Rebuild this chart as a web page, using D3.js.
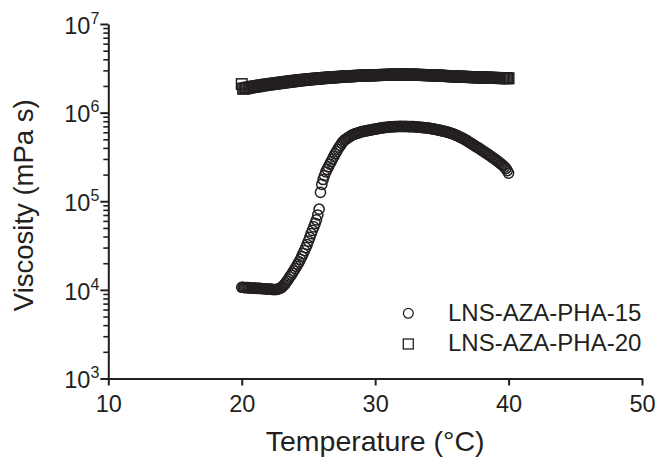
<!DOCTYPE html>
<html><head><meta charset="utf-8">
<script src="https://cdn.jsdelivr.net/npm/d3@7"></script>
<style>
html,body{margin:0;padding:0;background:#fff;}
svg{display:block;font-family:"Liberation Sans",Arial,Helvetica,sans-serif;}
</style></head><body>
<svg id="chart" width="657" height="458"></svg>
<script>
// Temperature (°C) of each measured point
const temperature = [
20.0,20.1,20.2,20.3,20.4,20.5,20.6,20.7,20.8,20.9,
21.0,21.1,21.2,21.3,21.4,21.5,21.6,21.7,21.8,21.9,
22.0,22.1,22.2,22.3,22.4,22.5,22.6,22.7,22.8,22.9,
23.0,23.1,23.2,23.3,23.4,23.5,23.6,23.7,23.8,23.9,
24.0,24.1,24.2,24.3,24.4,24.5,24.6,24.7,24.8,24.9,
25.0,25.1,25.2,25.3,25.4,25.5,25.6,25.7,25.8,25.9,
26.0,26.1,26.2,26.3,26.4,26.5,26.6,26.7,26.8,26.9,
27.0,27.1,27.2,27.3,27.4,27.5,27.6,27.7,27.8,27.9,
28.0,28.1,28.2,28.3,28.4,28.5,28.6,28.7,28.8,28.9,
29.0,29.1,29.2,29.3,29.4,29.5,29.6,29.7,29.8,29.9,
30.0,30.1,30.2,30.3,30.4,30.5,30.6,30.7,30.8,30.9,
31.0,31.1,31.2,31.3,31.4,31.5,31.6,31.7,31.8,31.9,
32.0,32.1,32.2,32.3,32.4,32.5,32.6,32.7,32.8,32.9,
33.0,33.1,33.2,33.3,33.4,33.5,33.6,33.7,33.8,33.9,
34.0,34.1,34.2,34.3,34.4,34.5,34.6,34.7,34.8,34.9,
35.0,35.1,35.2,35.3,35.4,35.5,35.6,35.7,35.8,35.9,
36.0,36.1,36.2,36.3,36.4,36.5,36.6,36.7,36.8,36.9,
37.0,37.1,37.2,37.3,37.4,37.5,37.6,37.7,37.8,37.9,
38.0,38.1,38.2,38.3,38.4,38.5,38.6,38.7,38.8,38.9,
39.0,39.1,39.2,39.3,39.4,39.5,39.6,39.7,39.8,39.9,
40.0];

// Viscosity (mPa s), LNS-AZA-PHA-15 (circles)
const viscosityPHA15 = [
1.07e4,1.07e4,1.06e4,1.06e4,1.06e4,1.06e4,1.05e4,1.05e4,1.05e4,1.05e4,
1.05e4,1.04e4,1.04e4,1.04e4,1.04e4,1.03e4,1.03e4,1.03e4,1.03e4,1.02e4,
1.02e4,1.02e4,1.02e4,1.01e4,1.01e4,1.01e4,1.01e4,1.02e4,1.03e4,1.05e4,
1.07e4,1.11e4,1.15e4,1.20e4,1.26e4,1.32e4,1.40e4,1.47e4,1.55e4,1.64e4,
1.74e4,1.84e4,1.95e4,2.07e4,2.21e4,2.38e4,2.57e4,2.77e4,2.99e4,3.25e4,
3.55e4,3.91e4,4.32e4,4.70e4,5.13e4,5.62e4,6.17e4,7.00e4,8.13e4,1.26e5,
1.55e5,1.76e5,1.95e5,2.14e5,2.29e5,2.45e5,2.63e5,2.80e5,2.99e5,3.20e5,
3.43e5,3.63e5,3.85e5,4.07e5,4.27e5,4.52e5,4.71e5,4.90e5,5.01e5,5.13e5,
5.25e5,5.37e5,5.50e5,5.62e5,5.69e5,5.75e5,5.82e5,5.89e5,5.96e5,6.03e5,
6.10e5,6.12e5,6.17e5,6.21e5,6.27e5,6.31e5,6.35e5,6.40e5,6.44e5,6.49e5,
6.53e5,6.56e5,6.61e5,6.64e5,6.68e5,6.71e5,6.76e5,6.79e5,6.82e5,6.84e5,
6.87e5,6.89e5,6.92e5,6.93e5,6.95e5,6.96e5,6.97e5,6.97e5,6.98e5,6.97e5,
6.98e5,6.97e5,6.97e5,6.98e5,6.97e5,6.96e5,6.96e5,6.95e5,6.95e5,6.94e5,
6.92e5,6.90e5,6.87e5,6.84e5,6.82e5,6.80e5,6.78e5,6.75e5,6.73e5,6.71e5,
6.68e5,6.65e5,6.61e5,6.57e5,6.53e5,6.49e5,6.44e5,6.39e5,6.34e5,6.29e5,
6.24e5,6.19e5,6.15e5,6.10e5,6.04e5,5.98e5,5.92e5,5.85e5,5.78e5,5.70e5,
5.62e5,5.54e5,5.46e5,5.37e5,5.27e5,5.18e5,5.08e5,4.98e5,4.89e5,4.79e5,
4.69e5,4.59e5,4.49e5,4.39e5,4.30e5,4.20e5,4.11e5,4.02e5,3.94e5,3.85e5,
3.76e5,3.67e5,3.59e5,3.51e5,3.43e5,3.35e5,3.27e5,3.19e5,3.11e5,3.04e5,
2.96e5,2.89e5,2.81e5,2.74e5,2.66e5,2.59e5,2.51e5,2.43e5,2.34e5,2.22e5,
2.08e5];

// Viscosity (mPa s), LNS-AZA-PHA-20 (squares)
const viscosityPHA20 = [
2.10e6,1.86e6,1.87e6,1.88e6,1.90e6,1.91e6,1.92e6,1.94e6,1.95e6,1.96e6,
1.97e6,1.98e6,1.99e6,2.00e6,2.02e6,2.03e6,2.04e6,2.05e6,2.06e6,2.07e6,
2.08e6,2.09e6,2.10e6,2.11e6,2.12e6,2.13e6,2.14e6,2.15e6,2.16e6,2.17e6,
2.18e6,2.19e6,2.20e6,2.21e6,2.22e6,2.23e6,2.24e6,2.25e6,2.26e6,2.27e6,
2.28e6,2.29e6,2.30e6,2.31e6,2.32e6,2.33e6,2.34e6,2.34e6,2.35e6,2.36e6,
2.37e6,2.38e6,2.39e6,2.39e6,2.40e6,2.41e6,2.42e6,2.42e6,2.43e6,2.44e6,
2.45e6,2.45e6,2.46e6,2.47e6,2.47e6,2.48e6,2.49e6,2.49e6,2.50e6,2.51e6,
2.51e6,2.52e6,2.52e6,2.53e6,2.53e6,2.54e6,2.55e6,2.55e6,2.56e6,2.56e6,
2.57e6,2.57e6,2.58e6,2.58e6,2.59e6,2.59e6,2.60e6,2.60e6,2.60e6,2.61e6,
2.61e6,2.62e6,2.62e6,2.62e6,2.63e6,2.63e6,2.63e6,2.64e6,2.64e6,2.64e6,
2.65e6,2.65e6,2.65e6,2.66e6,2.66e6,2.66e6,2.66e6,2.67e6,2.67e6,2.67e6,
2.67e6,2.67e6,2.68e6,2.68e6,2.68e6,2.68e6,2.68e6,2.68e6,2.68e6,2.69e6,
2.69e6,2.69e6,2.69e6,2.68e6,2.68e6,2.68e6,2.68e6,2.68e6,2.68e6,2.68e6,
2.67e6,2.67e6,2.67e6,2.67e6,2.66e6,2.66e6,2.66e6,2.65e6,2.65e6,2.65e6,
2.64e6,2.64e6,2.64e6,2.63e6,2.63e6,2.62e6,2.62e6,2.62e6,2.61e6,2.61e6,
2.60e6,2.60e6,2.59e6,2.59e6,2.59e6,2.58e6,2.58e6,2.57e6,2.57e6,2.57e6,
2.56e6,2.56e6,2.55e6,2.55e6,2.55e6,2.54e6,2.54e6,2.53e6,2.53e6,2.53e6,
2.52e6,2.52e6,2.52e6,2.51e6,2.51e6,2.51e6,2.50e6,2.50e6,2.50e6,2.49e6,
2.49e6,2.49e6,2.48e6,2.48e6,2.48e6,2.48e6,2.47e6,2.47e6,2.47e6,2.47e6,
2.46e6,2.46e6,2.46e6,2.46e6,2.45e6,2.45e6,2.45e6,2.45e6,2.45e6,2.44e6,
2.44e6];

const seriesNames = ["LNS-AZA-PHA-15", "LNS-AZA-PHA-20"];
const xTickValues = [10, 20, 30, 40, 50];
const yDecadeExponents = [3, 4, 5, 6, 7];
const xTitle = "Temperature (°C)";
const yTitle = "Viscosity (mPa s)";

const ink = "#231f20";
const svg = d3.select("#chart");
const x = d3.scaleLinear().domain([10, 50]).range([108.3, 642]);
const y = d3.scaleLog().domain([1e3, 1e7]).range([378.5, 24]);

const n = Math.min(temperature.length, viscosityPHA15.length, viscosityPHA20.length);
const pts15 = d3.range(n).map(i => [temperature[i], viscosityPHA15[i]]);
const pts20 = d3.range(n).map(i => [temperature[i], viscosityPHA20[i]]);

// series markers
const sq = 10.5, rad = 5.1, mw = 1.5;
svg.append("g").selectAll("rect").data(pts20).join("rect")
  .attr("x", d => x(d[0]) - sq / 2).attr("y", d => y(d[1]) - sq / 2)
  .attr("width", sq).attr("height", sq)
  .attr("fill", "none").attr("stroke", ink).attr("stroke-width", mw);
svg.append("g").selectAll("circle").data(pts15).join("circle")
  .attr("cx", d => x(d[0])).attr("cy", d => y(d[1])).attr("r", rad)
  .attr("fill", "none").attr("stroke", ink).attr("stroke-width", mw);

// x axis
const gx = svg.append("g").attr("transform", `translate(0,${y(1e3)})`)
  .call(d3.axisBottom(x).tickValues(xTickValues).tickSize(7).tickSizeOuter(0).tickFormat(d3.format("d")));
gx.attr("font-family", null).attr("font-size", null);
gx.select(".domain").attr("stroke", ink).attr("stroke-width", 2);
gx.selectAll(".tick line").attr("stroke", ink).attr("stroke-width", 2);
gx.selectAll(".tick text").attr("fill", ink).attr("font-size", 23.5)
  .attr("dy", null).attr("y", 33.5);

// y axis (log, with minor ticks)
const yTickValues = [];
yDecadeExponents.forEach(k => {
  if (k === 7) { yTickValues.push(1e7); return; }
  for (let m = 1; m <= 9; m++) yTickValues.push(m * Math.pow(10, k));
});
const isMajor = v => Math.abs(Math.log10(v) - Math.round(Math.log10(v))) < 1e-9;
const gy = svg.append("g").attr("transform", `translate(${x(10)},0)`)
  .call(d3.axisLeft(y).tickValues(yTickValues).tickSize(5).tickSizeOuter(0).tickFormat(""));
gy.attr("font-family", null).attr("font-size", null);
gy.select(".domain").attr("stroke", ink).attr("stroke-width", 2);
gy.selectAll(".tick line").attr("stroke", ink)
  .attr("stroke-width", d => isMajor(d) ? 2 : 1.6)
  .attr("x2", d => isMajor(d) ? -8 : -5);
gy.selectAll(".tick text").remove();

const yl = svg.append("g").selectAll("text").data(yDecadeExponents).join("text")
  .attr("x", x(10) - 9).attr("y", k => y(Math.pow(10, k)) + 9.7)
  .attr("text-anchor", "end").attr("fill", ink);
yl.append("tspan").attr("font-size", 23.5).text("10");
yl.append("tspan").attr("font-size", 16).attr("dy", -10).text(k => k);

// axis titles
svg.append("text").attr("x", x(30)).attr("y", 451).attr("text-anchor", "middle")
  .attr("font-size", 28.5).attr("fill", ink).text(xTitle);
svg.append("text").attr("transform", `translate(33,${y(Math.pow(10, 5.0)) + 4}) rotate(-90)`)
  .attr("text-anchor", "middle").attr("font-size", 27.5).attr("fill", ink).text(yTitle);

// legend
const lg = svg.append("g");
lg.append("circle").attr("cx", 408.3).attr("cy", 313.3).attr("r", 4.9)
  .attr("fill", "none").attr("stroke", ink).attr("stroke-width", 1.3);
lg.append("rect").attr("x", 408.3 - 5).attr("y", 344 - 5).attr("width", 10).attr("height", 10)
  .attr("fill", "none").attr("stroke", ink).attr("stroke-width", 1.3);
lg.selectAll("text").data(seriesNames).join("text")
  .attr("x", 448).attr("y", (d, i) => 321 + i * 30)
  .attr("font-size", 24).attr("fill", ink).text(d => d);
</script>
</body></html>
